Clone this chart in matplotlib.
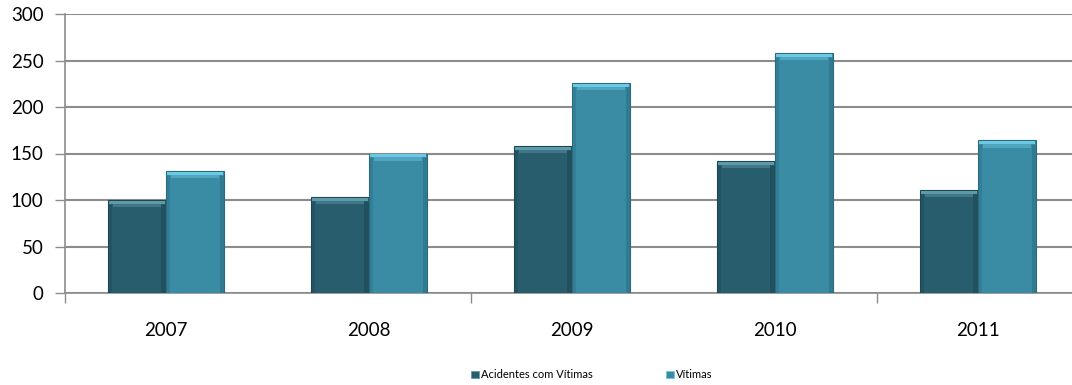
import matplotlib
matplotlib.use("Agg")
import matplotlib.pyplot as plt
from matplotlib.patches import Patch
import numpy as np

years = ["2007", "2008", "2009", "2010", "2011"]
acidentes = [100, 103, 158, 142, 111]
vitimas = [131, 150, 226, 258, 164]
series_names = ["Acidentes com Vítimas", "Vítimas"]

dark = "#275d6d"
dark_hi = "#5f9aab"
dark_edge = "#1d4653"
light = "#3a8ba4"
light_hi = "#6cc9e3"
light_edge = "#2a6a7e"

plt.rcParams['font.family'] = ['Lato', 'DejaVu Sans']

W, H = 1072, 385
fig = plt.figure(figsize=(W / 100, H / 100), dpi=100)
left_px, right_px, top_px, bot_px = 64.5, 1079.5, 14, 293
ax = fig.add_axes([left_px / W, (H - bot_px) / H, (right_px - left_px) / W, (bot_px - top_px) / H])

x = np.arange(len(years))
bw = 0.288

def bevel_bar(xs, vals, base, hi, edge):
    ax.bar(xs, vals, bw, color=base, edgecolor=edge, linewidth=0.8, zorder=3)
    band = 3.5
    ax.bar(xs, [band] * len(vals), bw * 0.96, bottom=[v - band - 0.8 for v in vals],
           color=hi, linewidth=0, zorder=4)
    ax.bar(xs, [3.5] * len(vals), bw * 0.82, bottom=[v - band - 4.3 for v in vals],
           color=hi, alpha=0.45, linewidth=0, zorder=4)
    ax.bar([xi + bw * 0.46 for xi in xs], [v - 5 for v in vals], bw * 0.08,
           color=edge, alpha=0.5, linewidth=0, zorder=4)
    ax.bar([xi - bw * 0.46 for xi in xs], [v - 5 for v in vals], bw * 0.06,
           color=edge, alpha=0.35, linewidth=0, zorder=4)

bevel_bar(x - bw / 2, acidentes, dark, dark_hi, dark_edge)
bevel_bar(x + bw / 2, vitimas, light, light_hi, light_edge)

ax.set_xlim(-0.5, len(years) - 0.5)
ax.set_ylim(0, 300)
ax.set_yticks(np.arange(0, 301, 50))
ax.yaxis.grid(True, color="#8c8c8c", linewidth=1.5, zorder=0)
ax.set_axisbelow(True)

ax.set_xticks(x)
ax.set_xticklabels(years, fontsize=13.5)
ax.tick_params(axis="x", length=0, pad=21, colors="black")
ax.tick_params(axis="y", length=7, width=1, color="#8c8c8c", labelsize=13.5, pad=8)
ax.set_xticks([-0.5, 1.5, 3.5], minor=True)
ax.tick_params(axis="x", which="minor", length=7, width=1, color="#8c8c8c")

for s in ["top", "right"]:
    ax.spines[s].set_visible(False)
for s in ["left", "bottom"]:
    ax.spines[s].set_color("#8c8c8c")
    ax.spines[s].set_linewidth(1.2)

handles = [Patch(facecolor=dark, edgecolor=dark_hi, linewidth=0.6),
           Patch(facecolor=light, edgecolor=light_hi, linewidth=0.6)]
fig.legend(handles, series_names, loc="center", bbox_to_anchor=(0.552, 0.026),
           ncol=2, frameon=False, fontsize=8, handlelength=0.7, handleheight=0.7,
           handletextpad=0.2, columnspacing=6.6)

fig.savefig("out.png", dpi=100)
